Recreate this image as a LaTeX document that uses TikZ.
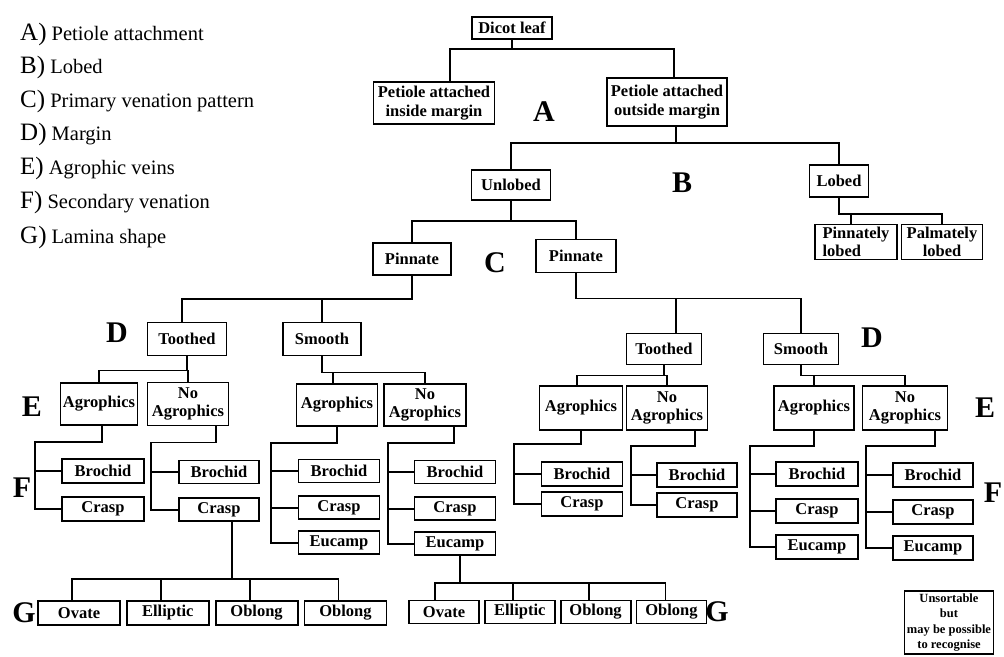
\documentclass[tikz,border=0pt]{standalone}
\usepackage{fontspec}
\setmainfont{Liberation Serif}
\usepackage{tikz}
\usetikzlibrary{positioning}

\tikzset{
  box/.style={draw, line width=1.8pt, align=center, inner sep=1pt,
    font=\bfseries\fontsize{16.5}{18.5}\selectfont},
  link/.style={line width=1.8pt},
  key/.style={inner sep=0pt, font=\bfseries\fontsize{30}{30}\selectfont},
  legend/.style={anchor=base west, inner sep=0pt, font=\fontsize{20.5}{22}\selectfont},
}
\newcommand{\keyletter}[1]{{\fontsize{25}{25}\selectfont #1)}}

\begin{document}
\begin{tikzpicture}[x=1pt, y=-1pt]

  \useasboundingbox (0,0) rectangle (1004,656);

  % Legend

  \node[legend] (legA) at (20,40)  {\keyletter{A} Petiole attachment};
  \node[legend] (legB) at (20,73)  {\keyletter{B} Lobed};
  \node[legend] (legC) at (20,107) {\keyletter{C} Primary venation pattern};
  \node[legend] (legD) at (20,140) {\keyletter{D} Margin};
  \node[legend] (legE) at (20,174) {\keyletter{E} Agrophic veins};
  \node[legend] (legF) at (20,208) {\keyletter{F} Secondary venation};
  \node[legend] (legG) at (20,243) {\keyletter{G} Lamina shape};

  % Define nodes

  \node[box, minimum width=80, minimum height=22] (root) at (512,28) {Dicot leaf};
  \node[box, minimum width=121, minimum height=42] (inside) at (434,103) {Petiole attached\\inside margin};
  \node[box, minimum width=120, minimum height=48] (outside) at (667,102) {Petiole attached\\outside margin};

  \node[box, minimum width=79, minimum height=30] (unlobed) at (511,185) {Unlobed};
  \node[box, minimum width=59, minimum height=32] (lobed) at (839,181) {Lobed};
  \node[box, minimum width=82, minimum height=35, align=left] (pinlobed) at (856,242) {Pinnately\\lobed};
  \node[box, minimum width=81, minimum height=35] (palmlobed) at (942,242) {Palmately\\lobed};

  \node[box, minimum width=78, minimum height=32] (pinL) at (412,259) {Pinnate};
  \node[box, minimum width=80, minimum height=33] (pinR) at (576,256) {Pinnate};

  \node[box, minimum width=79, minimum height=33] (tooL) at (187,339) {Toothed};
  \node[box, minimum width=78, minimum height=33] (smoL) at (322,339) {Smooth};
  \node[box, minimum width=75, minimum height=31] (tooR) at (664,349) {Toothed};
  \node[box, minimum width=75, minimum height=31] (smoR) at (801,349) {Smooth};

  \node[box, minimum width=77, minimum height=42] (agroLa) at (99,404) {Agrophics};
  \node[box, minimum width=81, minimum height=43] (noagroLa) at (188,404) {No\\Agrophics};
  \node[box, minimum width=81, minimum height=42] (agroLb) at (337,405) {Agrophics};
  \node[box, minimum width=82, minimum height=42] (noagroLb) at (425,405) {No\\Agrophics};
  \node[box, minimum width=83, minimum height=44] (agroRa) at (581,408) {Agrophics};
  \node[box, minimum width=81, minimum height=44] (noagroRa) at (667,408) {No\\Agrophics};
  \node[box, minimum width=80, minimum height=44] (agroRb) at (814,408) {Agrophics};
  \node[box, minimum width=85, minimum height=44] (noagroRb) at (905,408) {No\\Agrophics};

  \node[box, minimum width=82, minimum height=24] (broLa) at (103,471) {Brochid};
  \node[box, minimum width=82, minimum height=24, below=12pt of broLa] (craLa) {Crasp};

  \node[box, minimum width=80, minimum height=23] (broNLa) at (219,472) {Brochid};
  \node[box, minimum width=80, minimum height=23, below=13pt of broNLa] (craNLa) {Crasp};

  \node[box, minimum width=81, minimum height=23] (broLb) at (339,471) {Brochid};
  \node[box, minimum width=81, minimum height=23, below=12pt of broLb] (craLb) {Crasp};
  \node[box, minimum width=81, minimum height=23, below=10pt of craLb] (eucLb) {Eucamp};

  \node[box, minimum width=81, minimum height=23] (broNLb) at (455,472) {Brochid};
  \node[box, minimum width=81, minimum height=23, below=12pt of broNLb] (craNLb) {Crasp};
  \node[box, minimum width=81, minimum height=23, below=10pt of craNLb] (eucNLb) {Eucamp};

  \node[box, minimum width=81, minimum height=24] (broRa) at (582,474) {Brochid};
  \node[box, minimum width=81, minimum height=24, below=4pt of broRa] (craRa) {Crasp};

  \node[box, minimum width=80, minimum height=24] (broNRa) at (697,475) {Brochid};
  \node[box, minimum width=80, minimum height=24, below=4pt of broNRa] (craNRa) {Crasp};

  \node[box, minimum width=82, minimum height=24] (broRb) at (817,474) {Brochid};
  \node[box, minimum width=82, minimum height=24, below=11pt of broRb] (craRb) {Crasp};
  \node[box, minimum width=82, minimum height=24, below=10pt of craRb] (eucRb) {Eucamp};

  \node[box, minimum width=80, minimum height=24] (broNRb) at (933,475) {Brochid};
  \node[box, minimum width=80, minimum height=24, below=11pt of broNRb] (craNRb) {Crasp};
  \node[box, minimum width=80, minimum height=24, below=10pt of craNRb] (eucNRb) {Eucamp};

  \node[box, minimum width=82, minimum height=24] (ovaL) at (79,613) {Ovate};
  \node[box, minimum width=82, minimum height=24, right=5pt of ovaL] (ellL) {Elliptic};
  \node[box, minimum width=82, minimum height=24, right=5pt of ellL] (oblL) {Oblong};
  \node[box, minimum width=82, minimum height=24, right=5pt of oblL] (obl2L) {Oblong};

  \node[box, minimum width=70, minimum height=23] (ovaR) at (444,612) {Ovate};
  \node[box, minimum width=70, minimum height=23, right=4pt of ovaR] (ellR) {Elliptic};
  \node[box, minimum width=70, minimum height=23, right=4pt of ellR] (oblR) {Oblong};
  \node[box, minimum width=70, minimum height=23, right=4pt of oblR] (obl2R) {Oblong};

  \node[box, anchor=north, minimum width=88, inner sep=2.5pt,
    font=\bfseries\fontsize{12.5}{15.5}\selectfont] (unsort) at (949,590)
    {Unsortable\\but\\may be possible\\to recognise};

  % Key letters

  \node[key] (kA) at (544,112) {A};
  \node[key] (kB) at (682,183) {B};
  \node[key] (kC) at (495,263) {C};
  \node[key] (kDl) at (117,333) {D};
  \node[key] (kDr) at (872,338) {D};
  \node[key] (kEl) at (32,407) {E};
  \node[key] (kEr) at (985,408) {E};
  \node[key] (kFl) at (22,488) {F};
  \node[key] (kFr) at (993,493) {F};
  \node[key] (kGl) at (24,613) {G};
  \node[key] (kGr) at (717,612) {G};

  % Connect the nodes

  \draw[link] (root.south) -- ++(0,9) -| ([xshift=16]inside.north);
  \draw[link] (root.south) -- ++(0,9) -| ([xshift=7]outside.north);

  \draw[link] ([xshift=9]outside.south) -- ++(0,16) -| (unlobed.north);
  \draw[link] ([xshift=9]outside.south) -- ++(0,16) -| (lobed.north);

  \draw[link] (lobed.south) -- ++(0,16) -| ([xshift=-5]pinlobed.north);
  \draw[link] (lobed.south) -- ++(0,16) -| (palmlobed.north);

  \draw[link] (unlobed.south) -- ++(0,20) -| (pinL.north);
  \draw[link] (unlobed.south) -- ++(0,20) -| (pinR.north);

  \draw[link] (pinL.south) -- ++(0,23) -| ([xshift=-5]tooL.north);
  \draw[link] (pinL.south) -- ++(0,23) -| (smoL.north);
  \draw[link] (pinR.south) -- ++(0,25) -| ([xshift=12]tooR.north);
  \draw[link] (pinR.south) -- ++(0,25) -| (smoR.north);

  \draw[link] (tooL.south) -- ++(0,14) -| (agroLa.north);
  \draw[link] (tooL.south) -- ++(0,14) -| (noagroLa.north);
  \draw[link] (smoL.south) -- ++(0,16) -| ([xshift=-4]agroLb.north);
  \draw[link] (smoL.south) -- ++(0,16) -| (noagroLb.north);
  \draw[link] (tooR.south) -- ++(0,10) -| ([xshift=-4]agroRa.north);
  \draw[link] (tooR.south) -- ++(0,10) -| (noagroRa.north);
  \draw[link] (smoR.south) -- ++(0,10) -| (agroRb.north);
  \draw[link] (smoR.south) -- ++(0,10) -| (noagroRb.north);

  % Secondary venation
  \draw[link] ([xshift=3]agroLa.south) -- ++(0,16) -| ([xshift=-26]craLa.west) -- (craLa.west);
  \draw[link] (broLa.west) -- ++(-26,0);
  \draw[link] ([xshift=28]noagroLa.south) -- ++(0,16) -| ([xshift=-27]craNLa.west) -- (craNLa.west);
  \draw[link] (broNLa.west) -- ++(-27,0);
  \draw[link] (agroLb.south) -- ++(0,16) -| ([xshift=-27]eucLb.west) -- (eucLb.west);
  \draw[link] (broLb.west) -- ++(-27,0);
  \draw[link] (craLb.west) -- ++(-27,0);
  \draw[link] ([xshift=29]noagroLb.south) -- ++(0,16) -| ([xshift=-26]eucNLb.west) -- (eucNLb.west);
  \draw[link] (broNLb.west) -- ++(-26,0);
  \draw[link] (craNLb.west) -- ++(-26,0);

  \draw[link] (agroRa.south) -- ++(0,13) -| ([xshift=-27]craRa.west) -- (craRa.west);
  \draw[link] (broRa.west) -- ++(-27,0);
  \draw[link] ([xshift=28]noagroRa.south) -- ++(0,15) -| ([xshift=-25]craNRa.west) -- (craNRa.west);
  \draw[link] (broNRa.west) -- ++(-25,0);
  \draw[link] (agroRb.south) -- ++(0,15) -| ([xshift=-25]eucRb.west) -- (eucRb.west);
  \draw[link] (broRb.west) -- ++(-25,0);
  \draw[link] (craRb.west) -- ++(-25,0);
  \draw[link] ([xshift=30]noagroRb.south) -- ++(0,15) -| ([xshift=-26]eucNRb.west) -- (eucNRb.west);
  \draw[link] (broNRb.west) -- ++(-26,0);
  \draw[link] (craNRb.west) -- ++(-26,0);

  % Lamina shape
  \draw[link] ([xshift=13]craNLa.south) -- ++(0,57) -| ([xshift=-7]ovaL.north);
  \draw[link] ([xshift=13]craNLa.south) -- ++(0,57) -| ([xshift=-7]ellL.north);
  \draw[link] ([xshift=13]craNLa.south) -- ++(0,57) -| ([xshift=-7]oblL.north);
  \draw[link] ([xshift=13]craNLa.south) -- ++(0,57) -| ([xshift=-7]obl2L.north);

  \draw[link] ([xshift=5]eucNLb.south) -- ++(0,27) -| ([xshift=-9]ovaR.north);
  \draw[link] ([xshift=5]eucNLb.south) -- ++(0,27) -| ([xshift=-7]ellR.north);
  \draw[link] ([xshift=5]eucNLb.south) -- ++(0,27) -| ([xshift=-7]oblR.north);
  \draw[link] ([xshift=5]eucNLb.south) -- ++(0,27) -| ([xshift=-6]obl2R.north);

\end{tikzpicture}
\end{document}
